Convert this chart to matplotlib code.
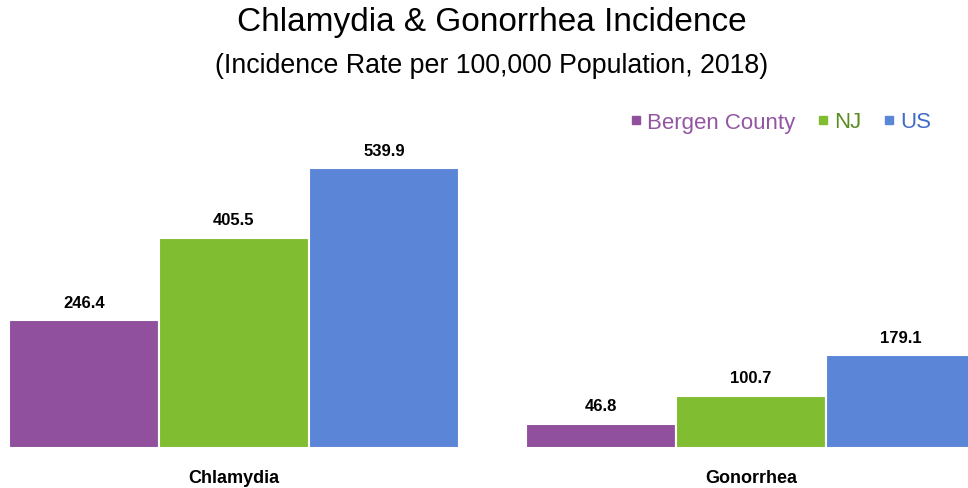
import matplotlib.pyplot as plt
from matplotlib.lines import Line2D
import numpy as np

categories = ['Chlamydia', 'Gonorrhea']
series = ['Bergen County', 'NJ', 'US']
bergen = [246.4, 46.8]
nj = [405.5, 100.7]
us = [539.9, 179.1]

bar_colors = ['#91509E', '#80BD31', '#5B86D7']
text_colors = ['#9356A2', '#5B8C22', '#3F6CC6']

plt.rcParams['font.family'] = ['Liberation Sans', 'DejaVu Sans']

fig = plt.figure(figsize=(9.68, 4.89), dpi=100)
ax = fig.add_axes([0, 40 / 489, 1, 1 - 40 / 489 - 140 / 489])

x = np.arange(len(categories))
w = 0.29
for i, vals in enumerate([bergen, nj, us]):
    bars = ax.bar(x + (i - 1) * w, vals, width=w, color=bar_colors[i],
                  edgecolor='white', linewidth=1.5, label=series[i])
    for b, v in zip(bars, vals):
        ax.text(b.get_x() + b.get_width() / 2, v + 20, f'{v:.1f}',
                ha='center', va='bottom', fontsize=12, fontweight='bold')

ax.set_xlim(-0.4526, 1.4197)
ax.set_ylim(0, (449 - 140) / 0.5186)
for s in ax.spines.values():
    s.set_visible(False)
ax.set_yticks([])
ax.set_xticks(x)
ax.set_xticklabels(categories, fontsize=13, fontweight='bold')
ax.tick_params(axis='x', length=0, pad=15)

fig.text(0.508, 1 - 23 / 489, 'Chlamydia & Gonorrhea Incidence', ha='center',
         va='center', fontsize=24)
fig.text(0.508, 1 - 66 / 489, '(Incidence Rate per 100,000 Population, 2018)',
         ha='center', va='center', fontsize=19.3)

handles = [Line2D([], [], marker='s', linestyle='', markersize=6,
                  color=c) for c in bar_colors]
leg = fig.legend(handles, series, loc='center right',
                 bbox_to_anchor=(0.983, 1 - 123 / 489), ncol=3, frameon=False,
                 fontsize=16, handletextpad=0.1, columnspacing=0.85,
                 handlelength=0.8)
for t, c in zip(leg.get_texts(), text_colors):
    t.set_color(c)

fig.savefig('out.png', dpi=100)
